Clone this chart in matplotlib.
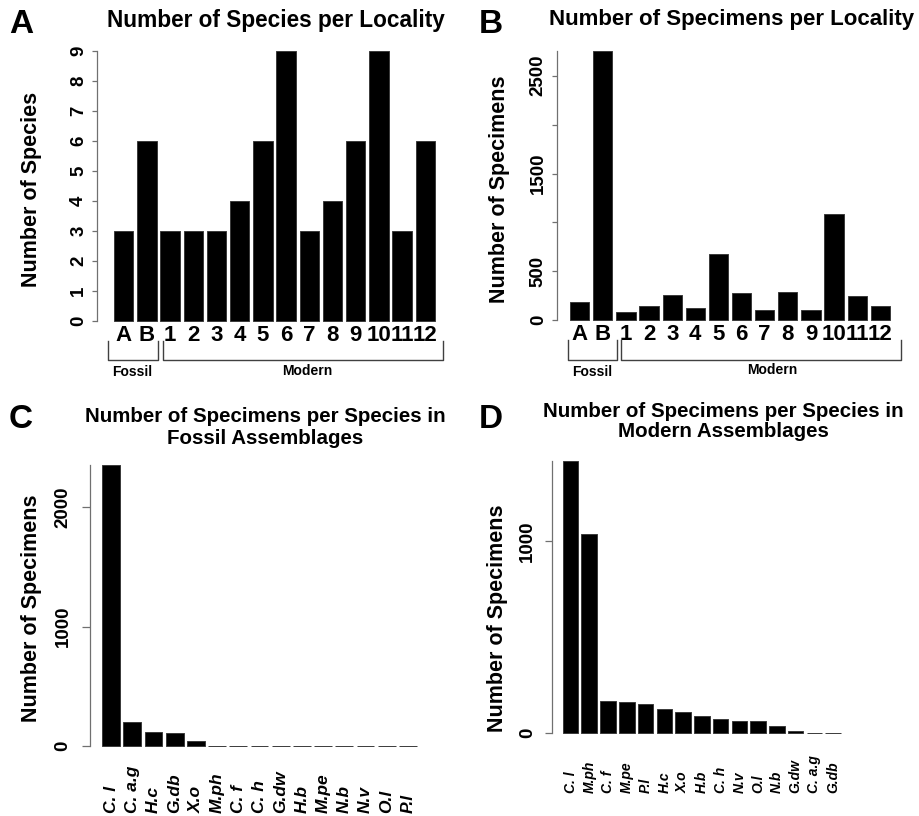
import matplotlib
matplotlib.use('Agg')
import matplotlib.pyplot as plt
from matplotlib.lines import Line2D
import matplotlib.transforms as mtransforms

plt.rcParams['font.family'] = ['Liberation Sans', 'DejaVu Sans']
plt.rcParams['font.weight'] = 'bold'

W, H, DPI = 920, 816, 100

# ---------------- data ----------------
localities = ['A', 'B', '1', '2', '3', '4', '5', '6', '7', '8', '9', '10', '11', '12']
species_per_locality = [3, 6, 3, 3, 3, 4, 6, 9, 3, 4, 6, 9, 3, 6]
specimens_per_locality = [191, 2755, 89, 146, 259, 129, 678, 276, 106, 286, 106, 1083, 245, 146]

fossil_species = ['C. l', 'C. a.g', 'H.c', 'G.db', 'X.o', 'M.ph', 'C. f', 'C. h',
                  'G.dw', 'H.b', 'M.pe', 'N.b', 'N.v', 'O.l', 'P.l']
fossil_counts = [2355, 199, 117, 103, 39, 0, 0, 0, 0, 0, 0, 0, 0, 0, 0]

modern_species = ['C. l', 'M.ph', 'C. f', 'M.pe', 'P.l', 'H.c', 'X.o', 'H.b', 'C. h',
                  'N.v', 'O.l', 'N.b', 'G.dw', 'C. a.g', 'G.db']
modern_counts = [1418, 1036, 168, 165, 151, 127, 113, 92, 76, 66, 66, 40, 12, 0, 0]

AXIS_COL = '#707070'

fig = plt.figure(figsize=(W / DPI, H / DPI), dpi=DPI)


def fx(x):
    return x / W


def fy(y):
    return 1 - y / H


def panel(ax_left, bar_left, bar_right, right, y0, ytop, values, ymax,
          yticks, yticklabels, tick_len, tick_pad, ytick_size):
    n = len(values)
    u = (bar_right - bar_left) / (1.2 * n - 0.2)
    x0 = 0.2 - (bar_left - ax_left) / u
    x1 = 1.2 * n + (right - bar_right) / u
    ax = fig.add_axes([fx(ax_left), fy(y0), (right - ax_left) / W, (y0 - ytop) / H])
    ax.set_xlim(x0, x1)
    ax.set_ylim(0, ymax)
    centers = [0.7 + 1.2 * i for i in range(n)]
    ax.bar(centers, values, width=1.0, color='black', edgecolor='#3a3a3a',
           linewidth=0.7, clip_on=False)
    for s in ['top', 'right', 'bottom']:
        ax.spines[s].set_visible(False)
    ax.spines['left'].set_bounds(0, ymax)
    ax.spines['left'].set_color(AXIS_COL)
    ax.spines['left'].set_linewidth(0.9)
    ax.set_yticks(yticks)
    ax.set_yticklabels(yticklabels, rotation=90, va='center', fontsize=ytick_size,
                       fontweight='bold')
    ax.tick_params(axis='y', length=tick_len, width=0.9, color=AXIS_COL, pad=tick_pad)
    ax.patch.set_alpha(0)
    return ax, centers, y0, ytop


def bracket(x_a, x_b, y_top, y_bot):
    fig.add_artist(Line2D([fx(x_a), fx(x_a), fx(x_b), fx(x_b)],
                          [fy(y_top), fy(y_bot), fy(y_bot), fy(y_top)],
                          transform=fig.transFigure, color='#404040', lw=1.0))


# ---------------- Panel A ----------------
axA, cA, _, _ = panel(97, 114, 435, 447, 321, 51, species_per_locality, 9,
                      list(range(10)), [str(i) for i in range(10)], 5 * 0.72, 3.5, 13.5)
axA.set_xticks(cA)
axA.set_xticklabels(localities, fontsize=16, fontweight='bold')
axA.tick_params(axis='x', length=0, pad=3)
bracket(108, 158, 341, 360)
bracket(162.7, 442.7, 341, 360)
fig.text(fx(132), fy(372), 'Fossil', ha='center', va='center', fontsize=10, fontweight='bold')
fig.text(fx(307), fy(371), 'Modern', ha='center', va='center', fontsize=10, fontweight='bold')
fig.text(fx(276), fy(20), 'Number of Species per Locality', ha='center', va='center',
         fontsize=16.3, fontweight='bold')
fig.text(fx(31.7), fy(189), 'Number of Species', ha='center', va='center', rotation=90,
         fontsize=15.5, fontweight='bold')
fig.text(fx(21), fy(33), 'A', ha='center', va='baseline', fontsize=24, fontweight='bold')

# ---------------- Panel B ----------------
axB, cB, _, _ = panel(556.7, 570, 890, 902, 320.3, 50.7, specimens_per_locality, 2755,
                      [0, 500, 1000, 1500, 2000, 2500], ['0', '500', '', '1500', '', '2500'],
                      5 * 0.72, 3.5, 13.5)
axB.set_xticks(cB)
axB.set_xticklabels(localities, fontsize=16, fontweight='bold')
axB.tick_params(axis='x', length=0, pad=3)
bracket(567.7, 617.3, 340, 360)
bracket(621, 900.7, 340, 360)
fig.text(fx(591.7), fy(372), 'Fossil', ha='center', va='center', fontsize=10, fontweight='bold')
fig.text(fx(772), fy(370), 'Modern', ha='center', va='center', fontsize=10, fontweight='bold')
fig.text(fx(731.7), fy(20), 'Number of Specimens per Locality', ha='center', va='center',
         fontsize=16, fontweight='bold')
fig.text(fx(500), fy(189.5), 'Number of Specimens', ha='center', va='center', rotation=90,
         fontsize=15.5, fontweight='bold')
fig.text(fx(491), fy(33), 'B', ha='center', va='baseline', fontsize=24, fontweight='bold')


def species_labels(ax, centers, labels, y0, ytop, bottom_px, size):
    frac = (y0 - bottom_px) / (y0 - ytop)
    trans = mtransforms.blended_transform_factory(ax.transData, ax.transAxes)
    ax.set_xticks([])
    for c, lab in zip(centers, labels):
        ax.text(c, frac, lab, transform=trans, rotation=90, ha='center', va='bottom',
                fontsize=size, fontweight='bold', style='italic', clip_on=False)


# ---------------- Panel C ----------------
axC, cC, y0C, ytC = panel(90, 102.3, 416.7, 428, 745.7, 465, fossil_counts, 2355,
                          [0, 1000, 2000], ['0', '1000', '2000'], 8 * 0.72, 7.5, 13.5)
species_labels(axC, cC, fossil_species, y0C, ytC, 813, 12.5)
fig.text(fx(265), fy(427.5), 'Number of Specimens per Species in\nFossil Assemblages',
         ha='center', va='center', fontsize=14.8, fontweight='bold', linespacing=1.2)
fig.text(fx(31.7), fy(608), 'Number of Specimens', ha='center', va='center', rotation=90,
         fontsize=15.5, fontweight='bold')
fig.text(fx(21), fy(428), 'C', ha='center', va='baseline', fontsize=24, fontweight='bold')

# ---------------- Panel D ----------------
axD, cD, y0D, ytD = panel(551.7, 562.7, 841, 852, 733.3, 461, modern_counts, 1418,
                          [0, 1000], ['0', '1000'], 7 * 0.72, 6, 13.5)
species_labels(axD, cD, modern_species, y0D, ytD, 793, 10)
fig.text(fx(723), fy(421.5), 'Number of Specimens per Species in\nModern Assemblages',
         ha='center', va='center', fontsize=14.8, fontweight='bold', linespacing=1.1)
fig.text(fx(498), fy(618), 'Number of Specimens', ha='center', va='center', rotation=90,
         fontsize=15.5, fontweight='bold')
fig.text(fx(491), fy(428), 'D', ha='center', va='baseline', fontsize=24, fontweight='bold')

fig.savefig('out.png', dpi=DPI)
